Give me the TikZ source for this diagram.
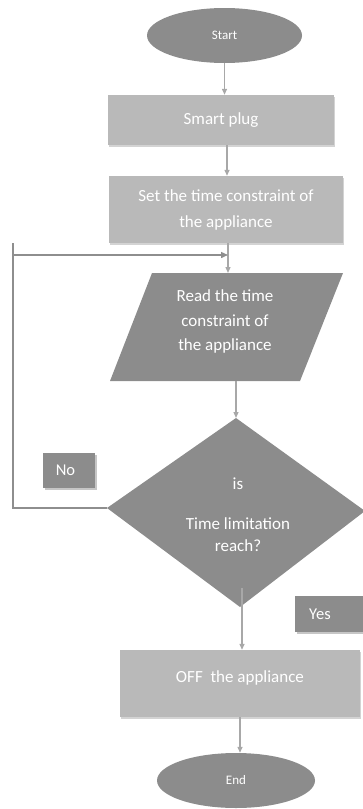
\documentclass[tikz,border=0pt]{standalone}
\usepackage{fontspec}
\setmainfont{Carlito}
\usetikzlibrary{arrows.meta,shapes.geometric,shadows}
\definecolor{darkfill}{HTML}{8C8C8C}
\definecolor{lightfill}{HTML}{B9B9B9}
\definecolor{linegray}{HTML}{A8A8A8}
\definecolor{loopgray}{HTML}{8E8E8E}

\begin{document}
\begin{tikzpicture}[x=1pt,y=-1pt,
  txt/.style={text=white,font=\fontsize{17}{24.5}\selectfont,align=center,inner sep=0},
  terminal/.style={ellipse,fill=darkfill,inner sep=0,text=white,
    font=\fontsize{13}{15}\selectfont},
  procbox/.style={rectangle,fill=lightfill,inner sep=0,text=white,align=center,
    font=\fontsize{17}{26}\selectfont,
    drop shadow={shadow xshift=0.5pt,shadow yshift=-2pt,opacity=0.35}},
  tagbox/.style={rectangle,fill=darkfill,inner sep=0,text=white,
    font=\fontsize{16.5}{20}\selectfont,
    drop shadow={shadow xshift=1.5pt,shadow yshift=-2pt,opacity=0.45}},
  conn/.style={draw=linegray,line width=1.3pt,-{Triangle[length=6pt,width=5pt]}},
  loopline/.style={draw=loopgray,line width=1.4pt},
]
\useasboundingbox (0,0) rectangle (363,809);

% terminals and process boxes
\node[terminal,minimum width=155,minimum height=55] (start) at (224.5,35.5) {Start};
\node[procbox,minimum width=226,minimum height=50] (plug) at (221,120) {Smart plug};
\node[procbox,minimum width=234,minimum height=67] (set) at (226,209.5)
  {Set the time constraint of\\the appliance};

% input/output parallelogram
\coordinate (pTL) at (152,273);
\coordinate (pTR) at (343,273);
\coordinate (pBR) at (300,381);
\coordinate (pBL) at (110,381);
\fill[darkfill] (pTL) -- (pTR) -- (pBR) -- (pBL) -- cycle;
\node[txt] (read) at (225,321.5) {Read the time\\constraint of\\the appliance};

% decision diamond
\coordinate (dT) at (236,418);
\coordinate (dL) at (107,508);
\coordinate (dR) at (365,511);
\coordinate (dB) at (240,607);
\fill[darkfill] (dT) -- (dR) -- (dB) -- (dL) -- cycle;
\node[txt,font=\fontsize{17}{22.5}\selectfont] (ask) at (238,515)
  {is\\[17pt]Time limitation\\reach?};

% branch labels
\node[tagbox,minimum width=52,minimum height=35] (no) at (69,470.5) {\hspace*{-7pt}No};
\node[tagbox,minimum width=72,minimum height=36] (yes) at (331,614) {\hspace*{-22pt}Yes};

% final process and terminal
\node[procbox,minimum width=240,minimum height=67] (off) at (240,683.5) {};
\node[txt] (offtxt) at ([yshift=6pt]off.center) {OFF\ \ the appliance};
\node[terminal,minimum width=158,minimum height=55] (end) at (236,780.5) {End};

% main flow
\draw[conn] (start.south) -- (start.south |- plug.north);
\draw[conn] ([xshift=6pt]plug.south) -- ([xshift=6pt]plug.south |- set.north);
\draw[conn] ([xshift=2pt]set.south) -- ([xshift=2pt]set.south |- pTL);
\draw[conn] (dT |- pBL) -- (dT);
\coordinate (dIn) at (242,588);
\draw[conn] (dIn) -- (dIn |- off.north);
\draw[conn] (off.south) -- (off.south |- end.north);

% "No" loop back to the read step
\coordinate (lTop) at (13,243);
\coordinate (lCorner) at (13,508);
\coordinate (lJoin) at (13,255);
\coordinate (lTip) at (228,255);
\draw[loopline] (dL) -- (lCorner) -- (lTop);
\draw[loopline,-{Triangle[length=7pt,width=6pt]}] (lJoin) -- (lTip);
\end{tikzpicture}
\end{document}
